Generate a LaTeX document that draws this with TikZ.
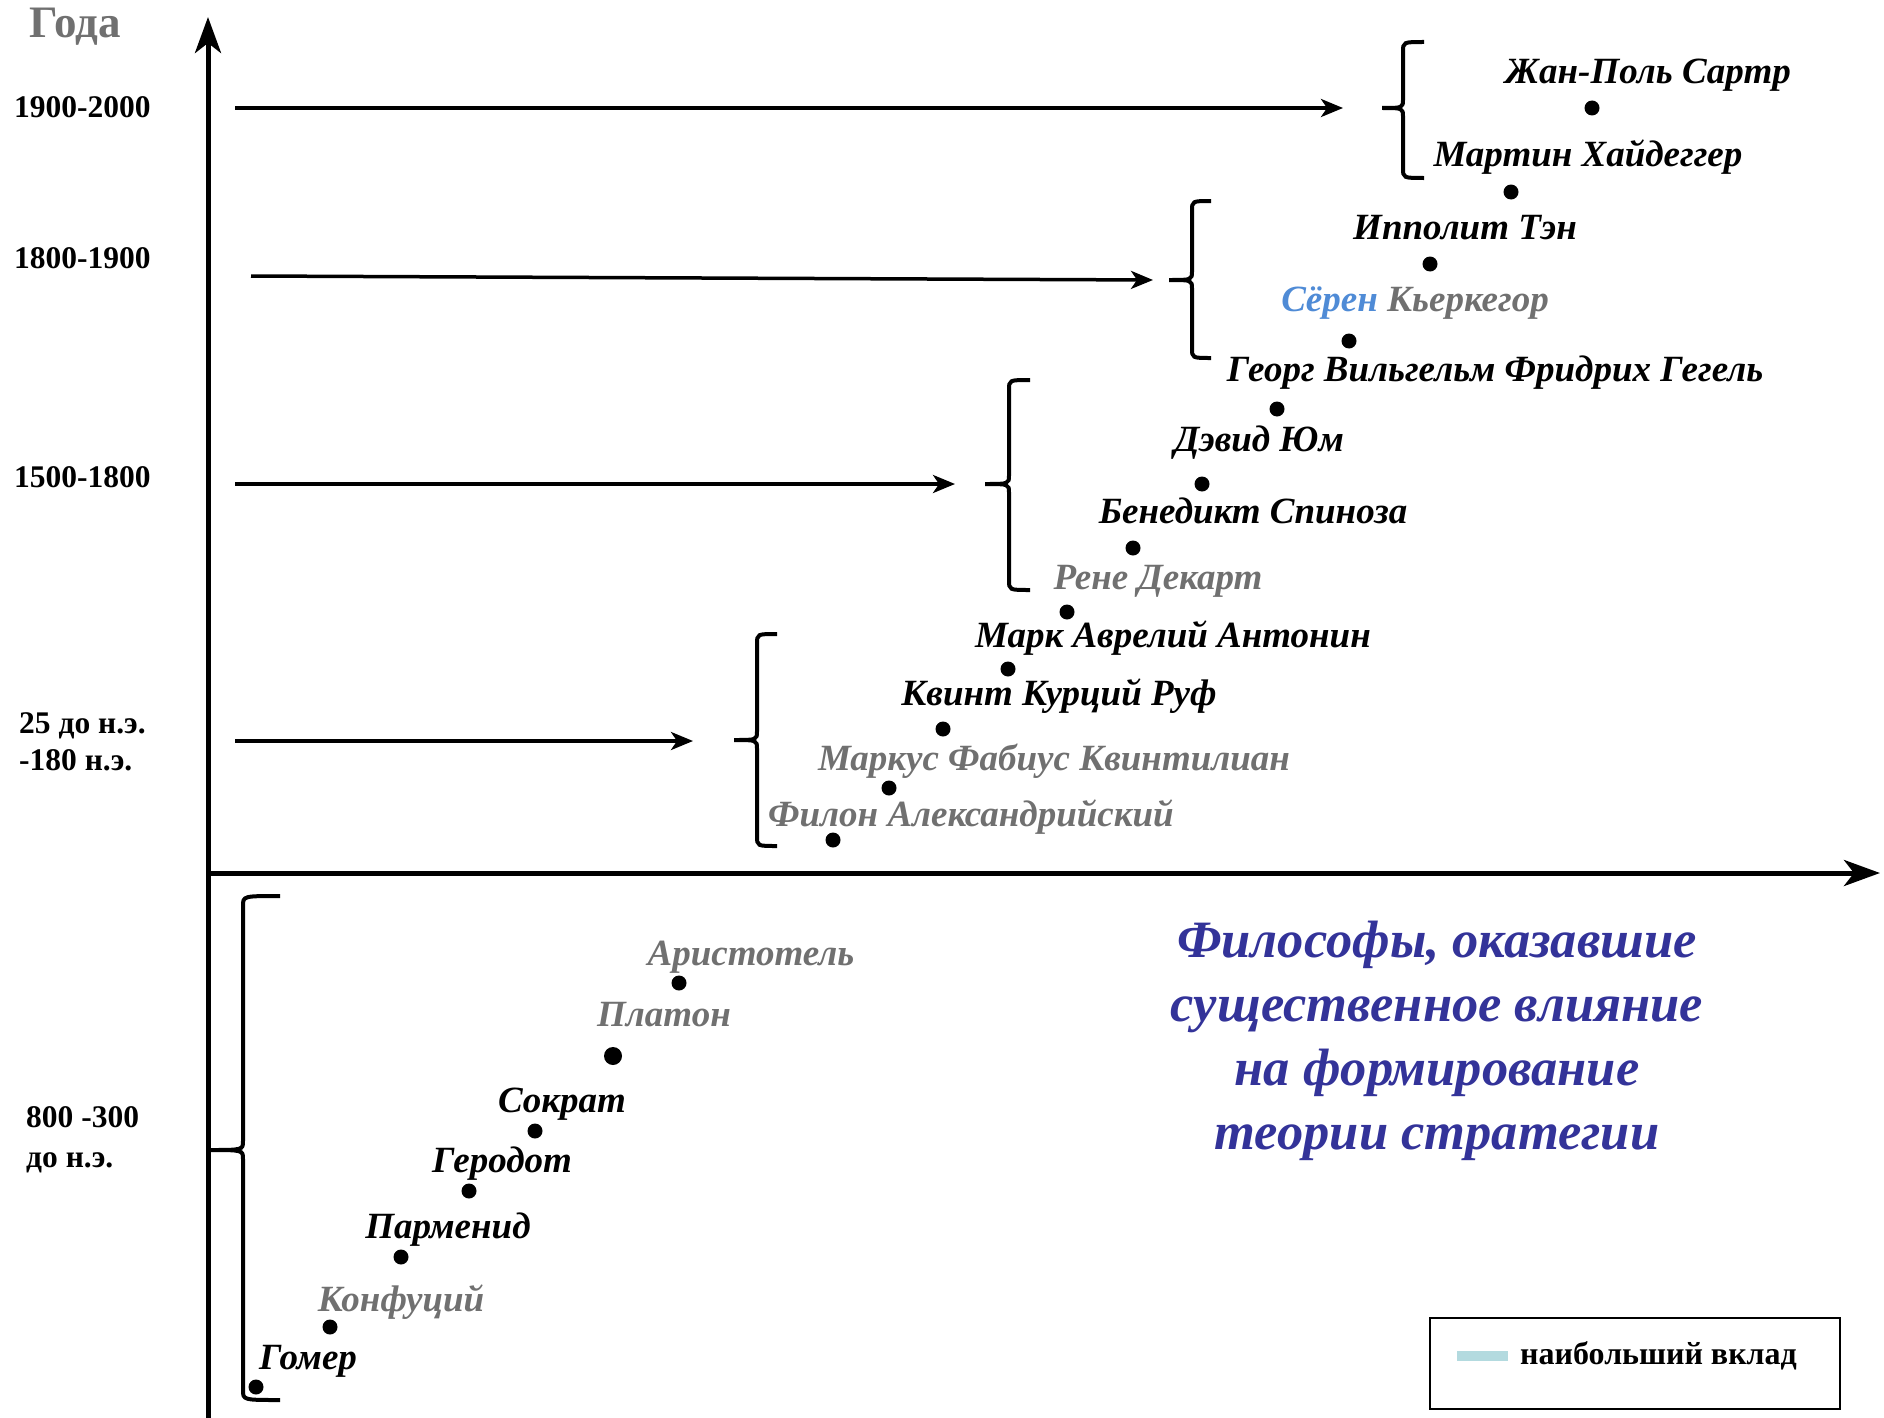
\documentclass[tikz,border=0pt]{standalone}
\usepackage{fontspec}
\setmainfont{Liberation Serif}
\usetikzlibrary{arrows.meta}
\definecolor{nmgray}{HTML}{707070}
\definecolor{sblue}{HTML}{4F8BD6}
\definecolor{ttl}{HTML}{333399}
\definecolor{swatch}{HTML}{B3DADF}
\newcommand{\drawbrace}[6]{% xv, xtip, xend, top, mid, bot
  \draw[brc] (#3,#4) .. controls (#1,#4) .. (#1,{#4+10}) -- (#1,{#5-9})
    .. controls (#1,#5) .. (#2,#5) .. controls (#1,#5) .. (#1,{#5+9})
    -- (#1,{#6-10}) .. controls (#1,#6) .. (#3,#6);}
\begin{document}
\begin{tikzpicture}[x=1pt,y=-1pt,
  pname/.style={font=\fontsize{37}{40}\selectfont\bfseries\itshape, anchor=base, inner sep=0pt},
  gname/.style={pname, text=nmgray},
  yr/.style={font=\fontsize{31.5}{36}\selectfont\bfseries, anchor=base west, inner sep=0pt},
  ttlline/.style={font=\fontsize{52.5}{60}\selectfont\bfseries\itshape, text=ttl, anchor=base, inner sep=0pt},
  dot/.style={circle, fill=black, inner sep=0pt, minimum size=15pt},
  tl/.style={line width=3.5pt, -{Stealth[length=22pt,width=18pt,inset=6pt]}},
  axisline/.style={line width=5pt, -{Stealth[length=36pt,width=26pt,inset=10pt]}},
  brc/.style={line width=4pt}
]
\useasboundingbox (0,0) rectangle (1884,1418);

% axes
\coordinate (yb) at (208,1418);
\coordinate (yt) at (208,17);
\coordinate (xl) at (206,873);
\coordinate (xr) at (1880,873);
\draw[axisline] (yb) -- (yt);
\draw[axisline] (xl) -- (xr);

% axis title and year labels
\node[font=\fontsize{45}{48}\selectfont\bfseries, text=nmgray, anchor=base, inner sep=0pt] (goda) at (75,38) {Года};
\node[yr] (y1) at (14,118) {1900-2000};
\node[yr] (y2) at (14,268) {1800-1900};
\node[yr] (y3) at (14,487) {1500-1800};
\node[yr] (y4a) at (19,733) {25 до н.э.};
\node[yr] (y4b) at (19,770) {-180 н.э.};
\node[yr] (y5a) at (26,1127) {800 -300};
\node[yr] (y5b) at (26,1167) {до н.э.};

% period arrows
\coordinate (a1s) at (235,108);  \coordinate (a1e) at (1343,108);
\coordinate (a2s) at (251,276);  \coordinate (a2e) at (1153,280);
\coordinate (a3s) at (235,484);  \coordinate (a3e) at (955,484);
\coordinate (a4s) at (235,741);  \coordinate (a4e) at (693,741);
\draw[tl] (a1s) -- (a1e);
\draw[tl] (a2s) -- (a2e);
\draw[tl] (a3s) -- (a3e);
\draw[tl] (a4s) -- (a4e);

% braces
\drawbrace{1403}{1382}{1424}{42}{108}{178}
\drawbrace{1192}{1169}{1211}{201}{280}{358}
\drawbrace{1009}{985}{1030}{380}{484}{590}
\drawbrace{757}{734}{777}{634}{740}{846}
\drawbrace{243}{208}{280}{896}{1150}{1400}

% dots
\node[dot] (d1) at (1592,108) {};
\node[dot] (d2) at (1511,192) {};
\node[dot] (d3) at (1430,264) {};
\node[dot] (d4) at (1349,341) {};
\node[dot] (d5) at (1277,409) {};
\node[dot] (d6) at (1202,484) {};
\node[dot] (d7) at (1133,548) {};
\node[dot] (d8) at (1067,612) {};
\node[dot] (d9) at (1008,669) {};
\node[dot] (d10) at (943,729) {};
\node[dot] (d11) at (889,788) {};
\node[dot] (d12) at (833,840) {};
\node[dot] (d13) at (679,983) {};
\node[dot, minimum size=18pt] (d14) at (613,1056) {};
\node[dot] (d15) at (535,1131) {};
\node[dot] (d16) at (469,1191) {};
\node[dot] (d17) at (401,1257) {};
\node[dot] (d18) at (330,1327) {};
\node[dot] (d19) at (256,1387) {};

% names
\node[pname] (n1) at (1648,84) {Жан-Поль Сартр};
\node[pname] (n2) at (1588,166) {Мартин Хайдеггер};
\node[pname] (n3) at (1465,239) {Ипполит Тэн};
\node[gname] (n4) at (1415,311) {{\color{sblue}Сёрен} Кьеркегор};
\node[pname] (n5) at (1495,381) {Георг Вильгельм Фридрих Гегель};
\node[pname] (n6) at (1259,451) {Дэвид Юм};
\node[pname] (n7) at (1253,523) {Бенедикт Спиноза};
\node[gname] (n8) at (1158,589) {Рене Декарт};
\node[pname] (n9) at (1173,647) {Марк Аврелий Антонин};
\node[pname] (n10) at (1059,705) {Квинт Курций Руф};
\node[gname] (n11) at (1054,770) {Маркус Фабиус Квинтилиан};
\node[gname] (n12) at (971,826) {Филон Александрийский};
\node[gname] (n13) at (751,965) {Аристотель};
\node[gname] (n14) at (664,1026) {Платон};
\node[pname] (n15) at (562,1112) {Сократ};
\node[pname] (n16) at (502,1172) {Геродот};
\node[pname] (n17) at (448,1238) {Парменид};
\node[gname] (n18) at (401,1311) {Конфуций};
\node[pname] (n19) at (308,1369) {Гомер};

% title
\node[ttlline] (t1) at (1437,957) {Философы, оказавшие};
\node[ttlline] (t2) at (1437,1021) {существенное влияние};
\node[ttlline] (t3) at (1437,1085) {на формирование};
\node[ttlline] (t4) at (1437,1149) {теории стратегии};

% legend
\node[draw, line width=2pt, minimum width=410pt, minimum height=91pt, inner sep=0pt] (leg) at (1635,1363.5) {};
\fill[swatch] (1457,1351) rectangle (1508,1361);
\node[font=\fontsize{32}{36}\selectfont\bfseries, anchor=base west, inner sep=0pt] (legtxt) at (1520,1364) {наибольший вклад};
\end{tikzpicture}
\end{document}
